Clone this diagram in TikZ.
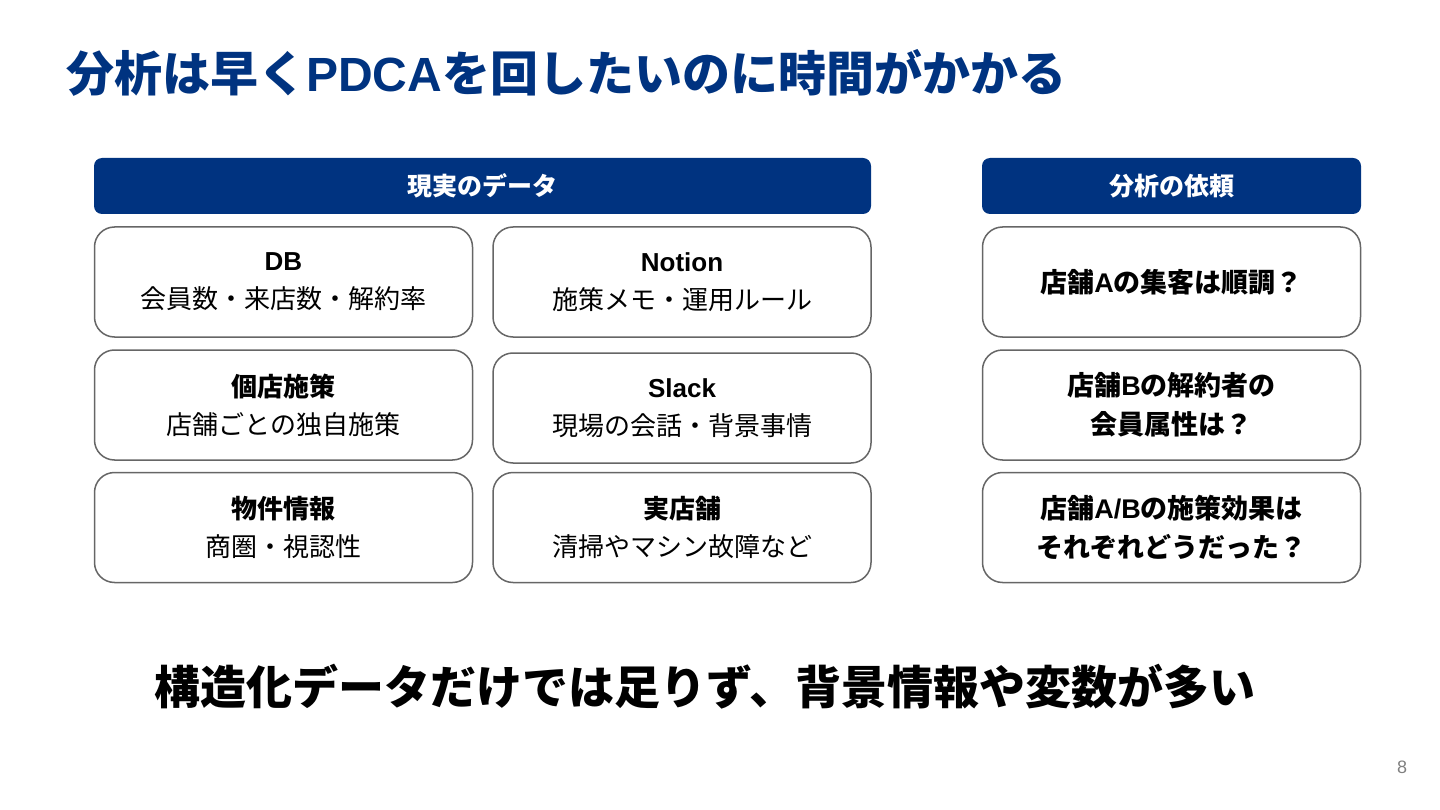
\documentclass[tikz,border=0pt]{standalone}
\usepackage{fontspec}
\setmainfont{Noto Sans CJK JP}
\newfontfamily\latin{Liberation Sans}
\definecolor{navy}{HTML}{003380}
\definecolor{edge}{HTML}{666666}
\begin{document}
\begin{tikzpicture}[x=1pt,y=-1pt,
  bar/.style={fill=navy, rounded corners=8pt, minimum height=56pt, inner sep=0pt, text=white, font=\fontsize{25}{30}\selectfont\bfseries},
  card/.style={draw=edge, line width=1.5pt, rounded corners=20pt, fill=white, minimum width=378pt, minimum height=110pt, align=center, inner sep=0pt, font=\fontsize{26}{38}\selectfont},
  qcard/.style={card, font=\fontsize{27}{39}\selectfont\bfseries},
]
\useasboundingbox (0,0) rectangle (1440,810);
\node[anchor=west, inner sep=0pt, text=navy, font=\fontsize{48}{58}\selectfont\bfseries] (title) at (66,73) {分析は早く{\latin PDCA}を回したいのに時間がかかる};

\node[bar, minimum width=777pt] (barL) at (482.5,186) {現実のデータ};
\node[bar, minimum width=379pt] (barR) at (1171.5,186) {分析の依頼};

\node[card] (db) at (283.5,282) {{\latin\bfseries DB}\\会員数・来店数・解約率};
\node[card] (notion) at (682,282) {{\latin\bfseries Notion}\\施策メモ・運用ルール};
\node[card] (kobetsu) at (283.5,405) {{\bfseries 個店施策}\\店舗ごとの独自施策};
\node[card] (slack) at (682,408) {{\latin\bfseries Slack}\\現場の会話・背景事情};
\node[card] (bukken) at (283.5,527.5) {{\bfseries 物件情報}\\商圏・視認性};
\node[card] (jitsu) at (682,527.5) {{\bfseries 実店舗}\\清掃やマシン故障など};

\node[qcard] (q1) at (1171.5,282) {店舗{\latin A}の集客は順調？};
\node[qcard] (q2) at (1171.5,405) {店舗{\latin B}の解約者の\\会員属性は？};
\node[qcard] (q3) at (1171.5,527.5) {店舗{\latin A/B}の施策効果は\\それぞれどうだった？};

\node[font=\fontsize{46}{54}\selectfont\bfseries] (summary) at (705,687) {構造化データだけでは足りず、背景情報や変数が多い};
\node[text=gray, font=\latin\fontsize{18}{22}\selectfont] (page) at (1402,767) {8};
\end{tikzpicture}
\end{document}
